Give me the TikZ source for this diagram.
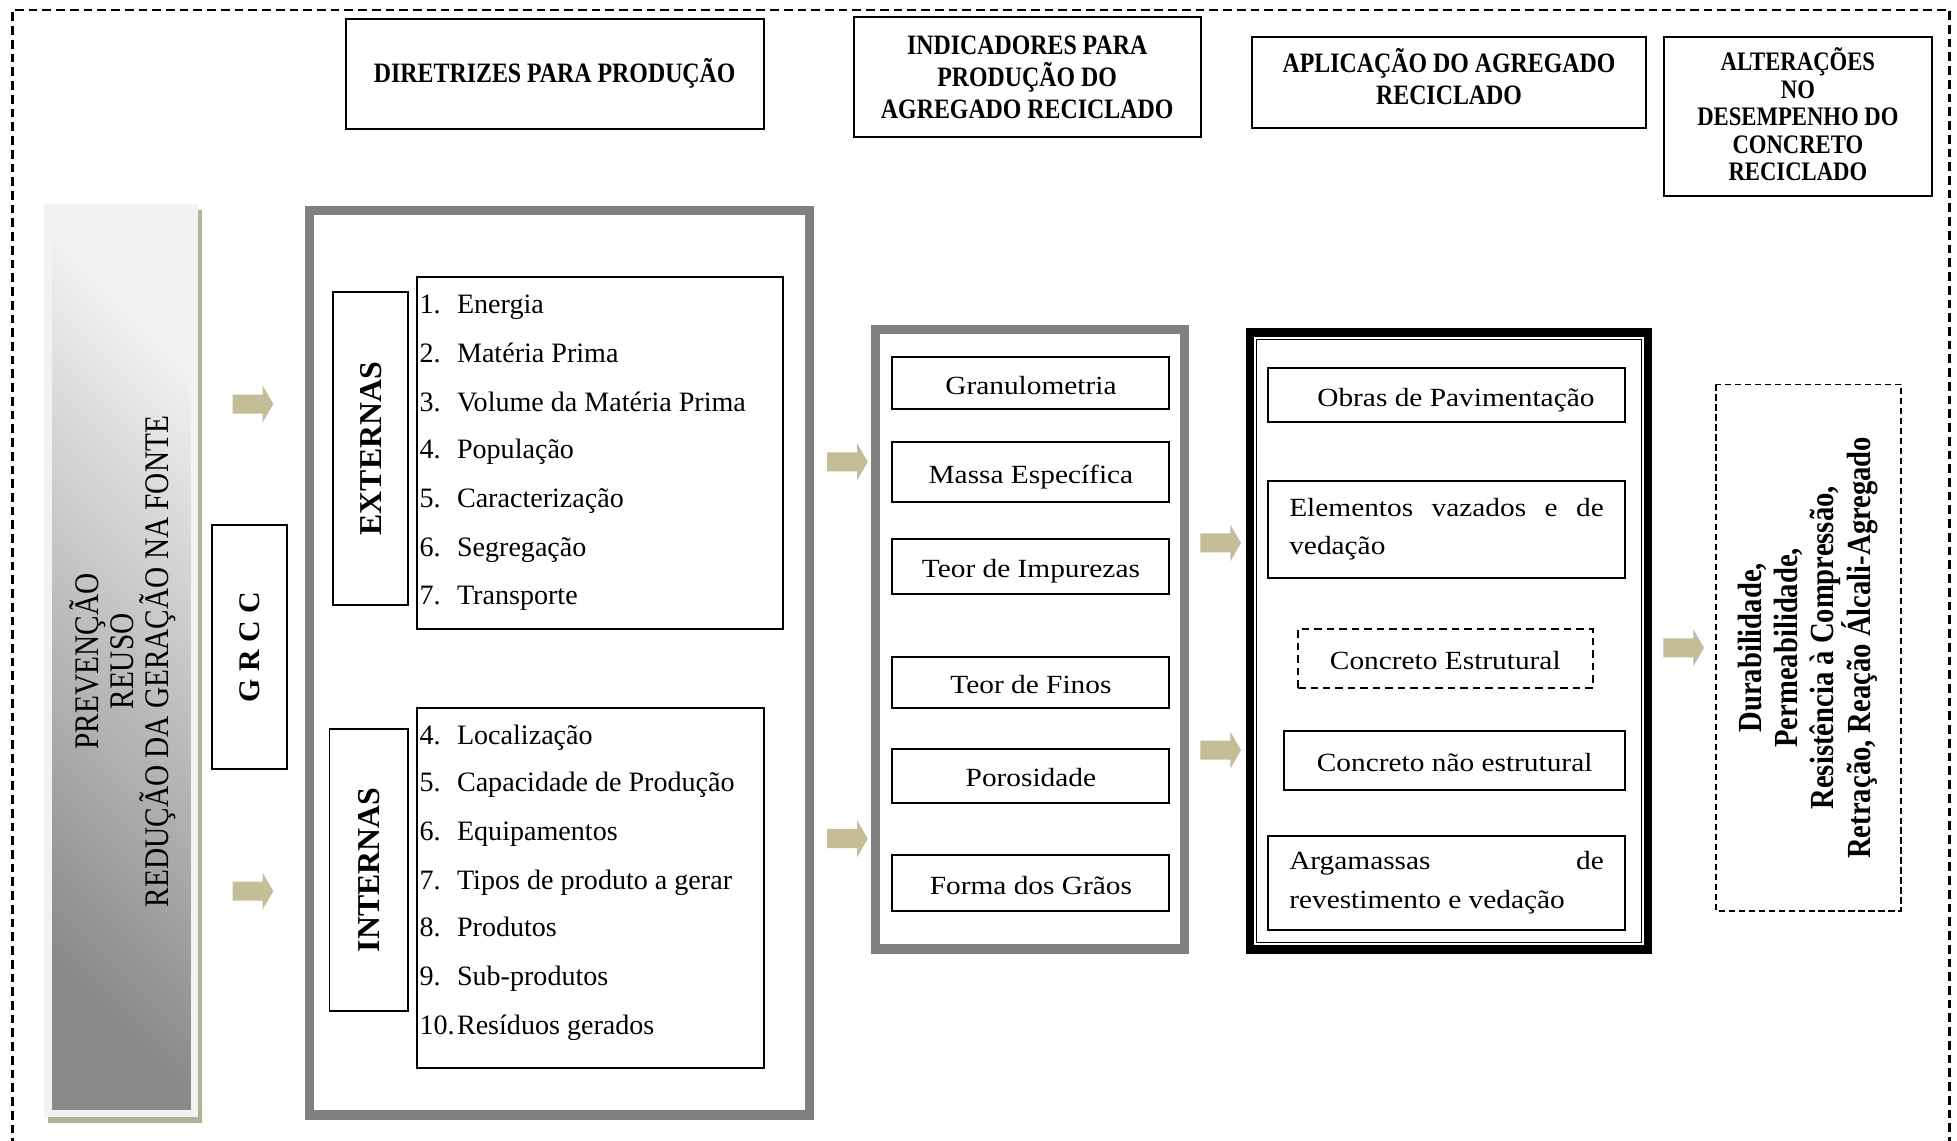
\documentclass[tikz,border=0pt]{standalone}
\usepackage{fontspec}
\setmainfont{Liberation Serif}
\newfontfamily\narrowserif[FakeStretch=0.85]{Liberation Serif}
\newfontfamily\wideserif[FakeStretch=1.12]{Liberation Serif}
\definecolor{arrowtan}{HTML}{C4BD97}
\definecolor{framegray}{HTML}{808080}
\definecolor{panelgray}{HTML}{F2F2F2}
\definecolor{shadowolive}{HTML}{A9B596}
\definecolor{shadelight}{HTML}{F2F2F2}
\definecolor{shadedark}{HTML}{8A8A8A}

\begin{document}
\begin{tikzpicture}[x=1pt,y=-1pt,
  box/.style={draw, line width=1.6pt, inner sep=0pt},
  headbox/.style={box, align=center, font=\narrowserif\bfseries\fontsize{22.5}{25.5}\selectfont},
  itembox/.style={box, font=\wideserif\fontsize{21}{31}\selectfont},
  oneline/.style={text height=18pt, text depth=0pt},
  listbox/.style={draw, line width=1.6pt, inner sep=0pt},
  item/.style={anchor=west, inner sep=0pt, text height=17pt, text depth=2pt,
    font=\fontsize{22.5}{27}\selectfont},
  sidelabel/.style={box, rotate=90, font=\bfseries\fontsize{25.5}{28}\selectfont},
  grayframe/.style={draw=framegray, line width=7pt, inner sep=0pt},
  blockarrow/.pic={
    \fill[arrowtan] (-16.3,-7.6) -- (7.8,-7.6) -- (7.8,-14.7) -- (16.3,0)
      -- (7.8,14.7) -- (7.8,7.6) -- (-16.3,7.6) -- cycle;
  }
]
\useasboundingbox (0,0) rectangle (1568,914);
\fill[white] (0,0) rectangle (1568,914);

% outer dashed frame (open at the bottom edge of the page)
\draw[line width=1.9pt, dash pattern=on 7pt off 4pt] (10,930) -- (10,8) -- (1562,8) -- (1562,930);

% column headings
\node[headbox, minimum width=335pt, minimum height=88pt] (hdir) at (444.5,59) {DIRETRIZES PARA PRODUÇÃO};
\node[headbox, minimum width=278pt, minimum height=96pt] (hind) at (823,62) {INDICADORES PARA\\PRODUÇÃO DO\\AGREGADO RECICLADO};
\node[headbox, minimum width=316pt, minimum height=73pt, text depth=9pt] (happ) at (1161,66) {APLICAÇÃO DO AGREGADO\\RECICLADO};
\node[headbox, minimum width=215pt, minimum height=127pt, text depth=4pt,
  font=\narrowserif\bfseries\fontsize{21.4}{22}\selectfont] (halt) at (1440.5,93.5)
  {ALTERAÇÕES\\NO\\DESEMPENHO DO\\CONCRETO\\RECICLADO};

% source panel with shadow and diagonal gradient
\fill[shadowolive] (38.5,168) rectangle (161.5,899.5);
\node[fill=panelgray, inner sep=0pt, minimum width=123.3pt, minimum height=731.3pt] (srcpanel) at (97.15,529.35) {};
\node[inner sep=0pt, minimum width=111.3pt, minimum height=719.1pt,
  top color=shadelight, bottom color=shadedark, shading angle=-45] (srcshade) at (97.35,529.15) {};
\node[rotate=90, align=center, inner sep=0pt,
  font=\narrowserif\fontsize{27.6}{28}\selectfont] (srctext) at (98,530)
  {PREVENÇÃO\\REUSO\\REDUÇÃO DA GERAÇÃO NA FONTE};

\node[sidelabel, minimum width=195pt, minimum height=60pt,
  font=\bfseries\fontsize{24}{28}\selectfont] (grcc) at (200,518.5) {G R C C};

% guidelines panel
\node[grayframe, minimum width=401pt, minimum height=725pt] (dirpanel) at (448,531) {};
\draw[framegray, line width=1.6pt] ([shift={(6.5,6.5)}]dirpanel.north west) rectangle ([shift={(-6.5,-6.5)}]dirpanel.south east);

\node[sidelabel, minimum width=251pt, minimum height=60pt] (ext) at (297,359.5) {EXTERNAS};
\node[listbox, minimum width=293pt, minimum height=282pt] (extlist) at (480.5,363) {};
\node[item] (e1) at (336,244) {\makebox[30pt][l]{1.}Energia};
\node[item] (e2) at (336,283) {\makebox[30pt][l]{2.}Matéria Prima};
\node[item] (e3) at (336,322) {\makebox[30pt][l]{3.}Volume da Matéria Prima};
\node[item] (e4) at (336,360) {\makebox[30pt][l]{4.}População};
\node[item] (e5) at (336,399) {\makebox[30pt][l]{5.}Caracterização};
\node[item] (e6) at (336,438) {\makebox[30pt][l]{6.}Segregação};
\node[item] (e7) at (336,477) {\makebox[30pt][l]{7.}Transporte};

\node[sidelabel, minimum width=226pt, minimum height=63pt] (int) at (295.5,697) {INTERNAS};
\node[listbox, minimum width=278pt, minimum height=289pt] (intlist) at (473,711.5) {};
\node[item] (i4) at (336,589) {\makebox[30pt][l]{4.}Localização};
\node[item] (i5) at (336,627) {\makebox[30pt][l]{5.}Capacidade de Produção};
\node[item] (i6) at (336,666) {\makebox[30pt][l]{6.}Equipamentos};
\node[item] (i7) at (336,705) {\makebox[30pt][l]{7.}Tipos de produto a gerar};
\node[item] (i8) at (336,743) {\makebox[30pt][l]{8.}Produtos};
\node[item] (i9) at (336,782) {\makebox[30pt][l]{9.}Sub-produtos};
\node[item] (i10) at (336,821) {\makebox[30pt][l]{10.}Resíduos gerados};

% indicators panel
\node[grayframe, minimum width=248pt, minimum height=497pt] (indpanel) at (825.5,512) {};
\draw[framegray, line width=1.6pt] ([shift={(6.5,6.5)}]indpanel.north west) rectangle ([shift={(-6.5,-6.5)}]indpanel.south east);
\node[itembox, oneline, minimum width=222pt, minimum height=42pt] (ind1) at (826,307) {Granulometria};
\node[itembox, oneline, minimum width=222pt, minimum height=48pt] (ind2) at (826,378) {Massa Específica};
\node[itembox, oneline, minimum width=222pt, minimum height=44pt] (ind3) at (826,454) {Teor de Impurezas};
\node[itembox, oneline, minimum width=222pt, minimum height=41pt] (ind4) at (826,546.5) {Teor de Finos};
\node[itembox, oneline, minimum width=222pt, minimum height=43pt] (ind5) at (826,621.5) {Porosidade};
\node[itembox, oneline, minimum width=222pt, minimum height=45pt] (ind6) at (826,707.5) {Forma dos Grãos};

% application panel
\node[draw, line width=6.7pt, inner sep=0pt, minimum width=319.3pt, minimum height=494.3pt] (apppanel) at (1161,513.5) {};
\draw[line width=1.8pt] ([shift={(6.05,6.05)}]apppanel.north west) rectangle ([shift={(-6.05,-6.05)}]apppanel.south east);
\draw[line width=0.9pt] ([shift={(8.95,8.95)}]apppanel.north west) rectangle ([shift={(-8.95,-8.95)}]apppanel.south east);
\node[itembox, oneline, minimum width=286pt, minimum height=43pt] (app1) at (1159,316.5) {\hspace*{15pt}Obras de Pavimentação};
\node[itembox, minimum width=286pt, minimum height=78pt, align=left] (app2) at (1159,424)
  {\makebox[252pt][s]{Elementos vazados e de}\\vedação};
\node[itembox, oneline, minimum width=236pt, minimum height=47pt, dash pattern=on 6pt off 4pt] (app3) at (1158,527.5) {Concreto Estrutural};
\node[itembox, oneline, minimum width=273pt, minimum height=47pt] (app4) at (1165.5,609.5) {Concreto não estrutural};
\node[itembox, minimum width=286pt, minimum height=75pt, align=left] (app5) at (1159,707.5)
  {\makebox[252pt][s]{Argamassas de}\\revestimento e vedação};

% performance changes
\node[draw, line width=1.4pt, dash pattern=on 5pt off 3pt, rotate=90, align=center, inner sep=0pt,
  minimum width=422pt, minimum height=148pt,
  font=\narrowserif\bfseries\fontsize{27}{28.7}\selectfont] (res) at (1449,519)
  {Durabilidade,\\Permeabilidade,\\Resistência à Compressão,\\Retração, Reação Álcali-Agregado};

% flow arrows
\pic (arA) at (202.7,323.7) {blockarrow};
\pic (arB) at (202.7,714) {blockarrow};
\pic (arC) at (679,370) {blockarrow};
\pic (arD) at (679,672) {blockarrow};
\pic (arE) at (978,435) {blockarrow};
\pic (arF) at (978,601) {blockarrow};
\pic (arG) at (1349,519) {blockarrow};
\end{tikzpicture}
\end{document}
